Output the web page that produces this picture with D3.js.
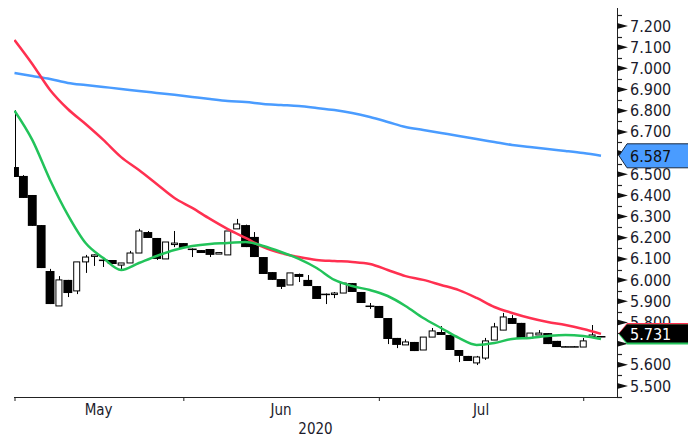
<!DOCTYPE html>
<html>
<head>
<meta charset="utf-8">
<script src="https://cdn.jsdelivr.net/npm/d3@7"></script>
<style>
body { margin: 0; background: #fff; }
text { font-family: "DejaVu Sans Condensed", "DejaVu Sans", sans-serif; font-stretch: condensed; fill: #1c1c2c; }
</style>
</head>
<body>
<div id="chart"></div>
<script>
// daily candles, May 5 - Aug 5 2020
var open  = [6.534,6.492,6.402,6.260,6.043,5.878,6.001,5.949,6.086,6.115,6.097,6.095,6.071,6.081,6.128,6.227,6.199,6.100,6.172,6.175,
             6.149,6.142,6.147,6.126,6.119,6.242,6.260,6.204,6.109,6.038,6.005,5.977,6.029,6.001,5.972,5.936,5.937,5.939,5.986,5.944,
             5.880,5.878,5.821,5.727,5.694,5.708,5.670,5.731,5.755,5.741,5.670,5.642,5.609,5.632,5.717,5.764,5.821,5.798,5.727,5.741,
             5.750,5.713,5.688,5.688,5.684,5.736,5.736]
var high  = [6.803,6.496,6.402,6.260,6.053,6.019,6.001,6.086,6.119,6.121,6.100,6.095,6.081,6.138,6.242,6.232,6.199,6.180,6.232,6.175,
             6.150,6.142,6.147,6.132,6.232,6.289,6.262,6.227,6.109,6.038,6.005,6.034,6.031,6.024,5.972,5.937,5.944,5.986,5.986,5.944,
             5.892,5.878,5.821,5.727,5.720,5.708,5.731,5.774,5.783,5.741,5.670,5.642,5.642,5.727,5.798,5.845,5.835,5.798,5.750,5.764,
             5.750,5.713,5.688,5.688,5.727,5.788,5.736]
var low   = [6.487,6.388,6.256,6.057,5.887,5.878,5.920,5.934,6.034,6.067,6.062,6.076,6.048,6.081,6.128,6.199,6.095,6.100,6.156,6.152,
             6.109,6.128,6.109,6.124,6.119,6.242,6.156,6.109,6.029,6.001,5.958,5.977,5.991,5.972,5.911,5.887,5.915,5.939,5.944,5.892,
             5.864,5.821,5.698,5.679,5.694,5.665,5.670,5.731,5.741,5.670,5.613,5.618,5.599,5.623,5.717,5.764,5.793,5.722,5.727,5.741,
             5.698,5.684,5.684,5.684,5.684,5.731,5.731]
var close = [6.487,6.388,6.256,6.057,5.887,6.001,5.939,6.086,6.109,6.119,6.095,6.076,6.081,6.128,6.232,6.199,6.100,6.180,6.175,6.152,
             6.146,6.128,6.119,6.130,6.232,6.265,6.156,6.109,6.029,6.001,5.968,6.034,6.015,5.972,5.911,5.934,5.939,5.986,5.944,5.892,
             5.876,5.821,5.722,5.694,5.708,5.665,5.731,5.760,5.741,5.670,5.642,5.618,5.637,5.713,5.779,5.826,5.793,5.722,5.750,5.750,
             5.698,5.684,5.684,5.684,5.713,5.741,5.731]

// moving averages read every second candle
var maIdx = [0,2,4,6,8,10,12,14,16,18,20,22,24,26,28,30,32,34,36,38,40,42,44,46,48,50,52,54,56,58,60,62,64,66]
var maFast = [6.800,6.662,6.473,6.308,6.175,6.104,6.048,6.081,6.114,6.142,6.161,6.171,6.175,6.180,6.161,6.133,6.100,6.057,
              6.001,5.972,5.953,5.925,5.878,5.821,5.774,5.727,5.694,5.703,5.722,5.727,5.736,5.741,5.736,5.722]
var maMid  = [7.134,7.021,6.898,6.808,6.737,6.662,6.581,6.520,6.454,6.388,6.341,6.289,6.241,6.199,6.156,6.128,6.109,6.095,
              6.090,6.086,6.076,6.048,6.019,6.001,5.977,5.953,5.916,5.873,5.845,5.821,5.802,5.788,5.769,5.746]
var maSlow = [6.978,6.964,6.950,6.931,6.921,6.912,6.903,6.893,6.884,6.875,6.865,6.855,6.846,6.841,6.832,6.827,6.822,6.813,
              6.803,6.789,6.770,6.747,6.723,6.709,6.695,6.681,6.666,6.652,6.638,6.629,6.619,6.610,6.600,6.587]

var months = ["May","Jun","Jul",""]
var monthStart = [0,19,41,64]
var yearLabel = "2020"
var yTicks = [5.5,5.6,5.7,5.8,5.9,6.0,6.1,6.2,6.3,6.4,6.5,6.6,6.7,6.8,6.9,7.0,7.1,7.2]
var yMinor = [5.45,5.55,5.65,5.75,5.85,5.95,6.05,6.15,6.25,6.35,6.45,6.55,6.65,6.75,6.85,6.95,7.05,7.15,7.25]

var W = 688, H = 439
var plotL = 14, axisX = 617, axisY = 397

var svg = d3.select('#chart').append('svg')
    .attr('width', W).attr('height', H)

var x = d3.scaleLinear().domain([0, 66]).range([14.5, 601])
var y = d3.scaleLinear().domain([5.5, 7.2]).range([386, 26])
var fmt = d3.format('.3f')

svg.append('clipPath').attr('id', 'plot')
  .append('rect').attr('x', plotL).attr('y', 0).attr('width', axisX - plotL).attr('height', axisY)

var plot = svg.append('g').attr('clip-path', 'url(#plot)')

var candles = d3.range(open.length).map(function(i) {
  return {i: i, o: open[i], h: high[i], l: low[i], c: close[i]}
})

var step = x(1) - x(0)

// wicks
plot.selectAll('line.wick').data(candles).enter().append('line')
    .attr('class', 'wick')
    .attr('x1', function(d) { return Math.round(x(d.i)) + 0.5 })
    .attr('x2', function(d) { return Math.round(x(d.i)) + 0.5 })
    .attr('y1', function(d) { return y(d.h) })
    .attr('y2', function(d) { return y(d.l) })
    .attr('stroke', '#000').attr('stroke-width', 1)

// bodies
plot.selectAll('rect.body').data(candles).enter().append('rect')
    .attr('class', 'body')
    .attr('x', function(d) { return d.c >= d.o ? x(d.i) - 3 : x(d.i) - step / 2 })
    .attr('width', function(d) { return d.c >= d.o ? 6 : step })
    .attr('y', function(d) { return y(Math.max(d.o, d.c)) })
    .attr('height', function(d) { return Math.max(1.5, Math.abs(y(d.o) - y(d.c))) })
    .attr('fill', function(d) { return d.c >= d.o ? '#fff' : '#000' })
    .attr('stroke', '#000')
    .attr('stroke-width', function(d) { return d.c >= d.o ? 1 : 0 })

var line = d3.line()
    .curve(d3.curveMonotoneX)
    .x(function(d, k) { return x(maIdx[k]) })
    .y(function(d) { return y(d) })

plot.append('path').datum(maSlow).attr('d', line)
    .attr('fill', 'none').attr('stroke', '#4a9cff').attr('stroke-width', 2.5)
plot.append('path').datum(maMid).attr('d', line)
    .attr('fill', 'none').attr('stroke', '#ff3050').attr('stroke-width', 2.5)
plot.append('path').datum(maFast).attr('d', line)
    .attr('fill', 'none').attr('stroke', '#22c35a').attr('stroke-width', 2.5)

// x axis
var xAxis = d3.axisBottom(x).tickValues(monthStart).tickSize(4).tickFormat('')
var gx = svg.append('g')
    .attr('transform', 'translate(0,' + axisY + ')')
    .call(xAxis)
gx.select('.domain').remove()
gx.selectAll('.tick line').attr('stroke', '#222')
svg.append('line')
    .attr('x1', plotL).attr('x2', axisX + 0.5)
    .attr('y1', axisY + 0.5).attr('y2', axisY + 0.5)
    .attr('stroke', '#222').attr('stroke-width', 1)

months.forEach(function(m, k) {
  var a = k === 0 ? plotL : x(monthStart[k])
  var b = k + 1 < monthStart.length ? x(monthStart[k + 1]) : axisX
  svg.append('text')
      .attr('x', (a + b) / 2).attr('y', 410)
      .attr('text-anchor', 'middle').attr('dominant-baseline', 'central')
      .style('font-size', '15px')
      .text(m)
})
svg.append('text')
    .attr('x', (plotL + axisX) / 2).attr('y', 429)
    .attr('text-anchor', 'middle').attr('dominant-baseline', 'central')
    .style('font-size', '15px')
    .text(yearLabel)

// y axis
svg.append('line')
    .attr('x1', axisX + 0.5).attr('x2', axisX + 0.5)
    .attr('y1', 8).attr('y2', axisY + 1)
    .attr('stroke', '#222').attr('stroke-width', 1)

svg.selectAll('line.minor').data(yMinor).enter().append('line')
    .attr('x1', axisX).attr('x2', axisX + 5)
    .attr('y1', function(d) { return Math.round(y(d)) + 0.5 })
    .attr('y2', function(d) { return Math.round(y(d)) + 0.5 })
    .attr('stroke', '#222').attr('stroke-width', 1.2)

svg.selectAll('path.major').data(yTicks).enter().append('path')
    .attr('d', function(d) {
      var t = y(d)
      return 'M' + axisX + ',' + (t - 3) + 'L' + (axisX + 11) + ',' + t + 'L' + axisX + ',' + (t + 3) + 'Z'
    })
    .attr('fill', '#111')

// value labels at the right
var last = close[close.length - 1]
var tags = [
  {v: maSlow[maSlow.length - 1], dy: 0, hh: 12, fill: '#4a9cff', stroke: '#1a2a40', text: fmt(maSlow[maSlow.length - 1]), tc: '#111'},
  {v: maMid[maMid.length - 1], dy: -1, hh: 10, fill: '#ff3050', stroke: 'none', text: '', tc: '#fff'},
  {v: maFast[maFast.length - 1], dy: -4.5, hh: 10, fill: '#22c35a', stroke: 'none', text: '', tc: '#fff'},
  {v: last, dy: -3.5, hh: 9, fill: '#000', stroke: 'none', text: fmt(last), tc: '#fff'}
]

// tick labels that fall inside a value tag are not drawn
var labelHidden = function(t) {
  return tags.some(function(g) {
    var cy = y(g.v) + g.dy
    return y(t) >= cy - g.hh && y(t) <= cy + g.hh
  })
}

svg.selectAll('text.ylab').data(yTicks).enter().append('text')
    .attr('class', 'ylab')
    .attr('x', axisX + 13).attr('y', function(d) { return y(d) })
    .attr('dominant-baseline', 'central')
    .style('font-size', '16px')
    .style('display', function(d) { return labelHidden(d) ? 'none' : null })
    .text(function(d) { return fmt(d) })

tags.forEach(function(g) {
  var cy = y(g.v) + g.dy
  var tip = axisX + 2
  svg.append('path')
      .attr('d', 'M' + tip + ',' + cy + 'L' + (tip + 8) + ',' + (cy - g.hh) + 'L' + (W + 2) + ',' + (cy - g.hh) +
                 'L' + (W + 2) + ',' + (cy + g.hh) + 'L' + (tip + 8) + ',' + (cy + g.hh) + 'Z')
      .attr('fill', g.fill)
      .attr('stroke', g.stroke).attr('stroke-width', 1)
  if (g.text) {
    svg.append('text')
        .attr('x', tip + 11).attr('y', cy + 0.5)
        .attr('dominant-baseline', 'central')
        .style('font-size', '16px')
        .style('fill', g.tc)
        .text(g.text)
  }
})
</script>
</body>
</html>
